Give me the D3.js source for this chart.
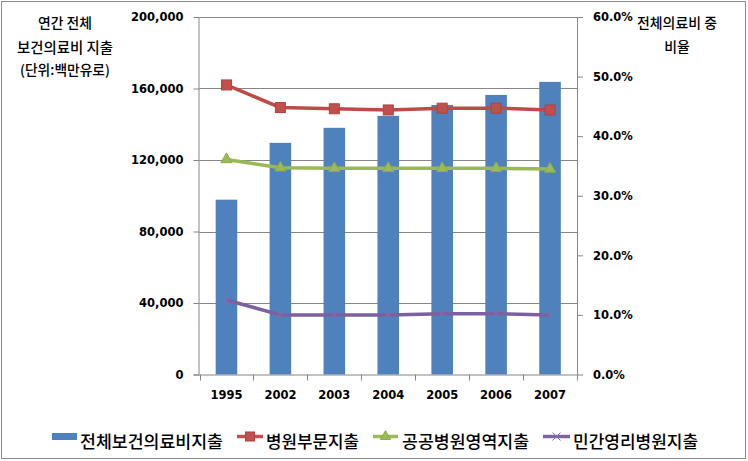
<!DOCTYPE html>
<html>
<head>
<meta charset="utf-8">
<script src="https://cdn.jsdelivr.net/npm/d3@7"></script>
<style>
  html, body { margin: 0; padding: 0; background: #fff; }
  svg { display: block; }
</style>
</head>
<body>
<svg id="chart" width="748" height="461"></svg>
<script>
// ---- data ----
const years = ['1995', '2002', '2003', '2004', '2005', '2006', '2007'];
const totalSpending = [97800, 129600, 138000, 144700, 150800, 156400, 163700];
const hospitalShare = [48.6, 44.8, 44.6, 44.4, 44.7, 44.7, 44.4];
const publicHospitalShare = [36.1, 34.7, 34.6, 34.6, 34.6, 34.6, 34.5];
const privateProfitShare = [12.5, 10.0, 10.0, 10.0, 10.2, 10.2, 10.0];
const leftTicks = [0, 40000, 80000, 120000, 160000, 200000];
const rightTicks = [0, 10, 20, 30, 40, 50, 60];
const seriesNames = ['전체보건의료비지출', '병원부문지출', '공공병원영역지출', '민간영리병원지출'];
const leftTitle = ['연간 전체', '보건의료비 지출', '(단위:백만유로)'];
const rightTitle = ['전체의료비 중', '비율'];

// ---- layout ----
const svg = d3.select('#chart');
const pLeft = 199.5, pRight = 577, pTop = 17, pBottom = 374.5;
const numFont = '"DejaVu Sans", sans-serif';
const krFont = '"Noto Sans CJK KR", sans-serif';

const x = d3.scaleBand().domain(years).range([pLeft, pRight]).paddingInner(0.6).paddingOuter(0.3);
const yL = d3.scaleLinear().domain([0, 200000]).range([pBottom, pTop]);
const yR = d3.scaleLinear().domain([0, 60]).range([pBottom, pTop]);

// scale a text's font size so its width matches a target width
function fitWidth(sel, target) {
  sel.each(function () {
    const base = parseFloat(this.getAttribute('font-size'));
    const w = this.getComputedTextLength();
    if (w > 0) this.setAttribute('font-size', (base * target / w).toFixed(2));
  });
}

// outer border
svg.append('rect').attr('x', 1.5).attr('y', 1.5).attr('width', 744).attr('height', 457)
  .attr('fill', '#fff').attr('stroke', '#8c8c8c').attr('stroke-width', 1);

// gridlines
svg.append('g').selectAll('line').data(leftTicks.filter(d => d > 0)).join('line')
  .attr('x1', pLeft).attr('x2', pRight)
  .attr('y1', d => Math.round(yL(d)) + 0.5).attr('y2', d => Math.round(yL(d)) + 0.5)
  .attr('stroke', '#868686').attr('stroke-width', 1);

// bars
svg.append('g').selectAll('rect').data(years).join('rect')
  .attr('x', d => x(d)).attr('width', x.bandwidth())
  .attr('y', (d, i) => yL(totalSpending[i]))
  .attr('height', (d, i) => pBottom - yL(totalSpending[i]))
  .attr('fill', '#4f81bd');

// left axis
const gL = svg.append('g').attr('transform', `translate(${pLeft},0)`)
  .call(d3.axisLeft(yL).tickValues(leftTicks).tickSize(6).tickPadding(10)
    .tickFormat(d3.format(',')));
gL.select('.domain').attr('stroke', '#868686').attr('d', `M-0.5,${pTop}V${pBottom}`);
gL.selectAll('.tick line').attr('stroke', '#868686');
gL.selectAll('.tick text').attr('font-family', numFont).attr('font-weight', 'bold')
  .attr('font-size', 11.5).attr('fill', '#000');

// right axis
const gR = svg.append('g').attr('transform', `translate(${pRight},0)`)
  .call(d3.axisRight(yR).tickValues(rightTicks).tickSize(6).tickPadding(10)
    .tickFormat(d => d3.format('.1f')(d) + '%'));
gR.select('.domain').attr('stroke', '#868686').attr('d', `M0.5,${pTop}V${pBottom}`);
gR.selectAll('.tick line').attr('stroke', '#868686');
gR.selectAll('.tick text').attr('font-family', numFont).attr('font-weight', 'bold')
  .attr('font-size', 11.5).attr('fill', '#000');

// x axis
const gX = svg.append('g').attr('transform', `translate(0,${pBottom})`);
gX.append('line').attr('x1', pLeft - 6).attr('x2', pRight).attr('y1', 0.5).attr('y2', 0.5)
  .attr('stroke', '#868686');
const bounds = years.map(d => x(d) - x.step() * x.paddingInner() / 2).concat([pRight]);
gX.selectAll('line.tk').data(bounds).join('line').attr('class', 'tk')
  .attr('x1', d => Math.round(d) + 0.5).attr('x2', d => Math.round(d) + 0.5)
  .attr('y1', 0).attr('y2', 6).attr('stroke', '#868686');
gX.selectAll('text').data(years).join('text')
  .attr('x', d => x(d) + x.bandwidth() / 2).attr('y', 24)
  .attr('text-anchor', 'middle').attr('font-family', numFont).attr('font-weight', 'bold')
  .attr('font-size', 11.5).text(d => d);

// lines
const cx = d => x(d) + x.bandwidth() / 2;
const series = [
  { vals: hospitalShare, color: '#c0504d', stroke: '#be4b48', marker: 'square' },
  { vals: publicHospitalShare, color: '#9bbb59', stroke: '#98b954', marker: 'triangle' },
  { vals: privateProfitShare, color: '#8064a2', stroke: '#7d60a0', marker: 'x' }
];
const line = d3.line().x(d => d[0]).y(d => d[1]);
function drawMarker(g, type, px, py, s) {
  if (type === 'square') {
    g.append('rect').attr('x', px - s / 2).attr('y', py - s / 2).attr('width', s).attr('height', s)
      .attr('fill', '#c0504d').attr('stroke', '#b3413e').attr('stroke-width', 1);
  } else if (type === 'triangle') {
    const sym = d3.symbol().type(d3.symbolTriangle).size(s * s * 0.55);
    g.append('path').attr('d', sym()).attr('transform', `translate(${px},${py})`)
      .attr('fill', '#9bbb59').attr('stroke', '#8aab48').attr('stroke-width', 1);
  } else {
    const h = s / 2;
    g.append('path').attr('d', `M${px - h},${py - h}L${px + h},${py + h}M${px - h},${py + h}L${px + h},${py - h}`)
      .attr('stroke', '#8a70aa').attr('stroke-width', 1).attr('fill', 'none');
  }
}
series.forEach(s => {
  const pts = years.map((d, i) => [cx(d), yR(s.vals[i])]);
  const g = svg.append('g');
  g.append('path').attr('d', line(pts)).attr('fill', 'none')
    .attr('stroke', s.stroke).attr('stroke-width', 3.5).attr('stroke-linejoin', 'round');
  pts.forEach(p => drawMarker(g, s.marker, p[0], p[1], s.marker === 'x' ? 6 : 10));
});

// axis titles
const leftWidths = [54, 96, 90];
svg.append('g').selectAll('text').data(leftTitle).join('text')
  .attr('x', 65).attr('y', (d, i) => [28, 53, 75][i])
  .attr('text-anchor', 'middle').attr('font-family', krFont).attr('font-size', 13.3)
  .attr('font-weight', 500).attr('fill', '#000')
  .text(d => d)
  .each(function (d, i) { fitWidth(d3.select(this), leftWidths[i]); });
const rt = svg.append('g').selectAll('text').data(rightTitle).join('text')
  .attr('x', 677).attr('y', (d, i) => [28, 52][i])
  .attr('text-anchor', 'middle').attr('font-family', krFont).attr('font-size', 13.3)
  .attr('font-weight', 500).attr('fill', '#000')
  .text(d => d);
fitWidth(d3.select(rt.nodes()[0]), 80);
d3.select(rt.nodes()[1]).attr('font-size', rt.nodes()[0].getAttribute('font-size'));

// legend
const lg = svg.append('g');
const legendItems = [
  { name: seriesNames[0], x0: 52, x1: 77, tx: 80, w: 143, type: 'bar' },
  { name: seriesNames[1], x0: 237, x1: 263, tx: 266, w: 93, type: 'square', color: '#c0504d' },
  { name: seriesNames[2], x0: 373, x1: 398, tx: 402, w: 127, type: 'triangle', color: '#9bbb59' },
  { name: seriesNames[3], x0: 543, x1: 570, tx: 573, w: 125, type: 'x', color: '#8064a2' }
];
const ly = 436.5;
legendItems.forEach(it => {
  if (it.type === 'bar') {
    lg.append('rect').attr('x', it.x0).attr('y', ly - 3.5).attr('width', it.x1 - it.x0).attr('height', 7)
      .attr('fill', '#4f81bd');
  } else {
    lg.append('line').attr('x1', it.x0).attr('x2', it.x1).attr('y1', ly).attr('y2', ly)
      .attr('stroke', it.color).attr('stroke-width', 3.5);
    drawMarker(lg, it.type, (it.x0 + it.x1) / 2, ly, it.type === 'x' ? 8 : 9);
  }
  const t = lg.append('text').attr('x', it.tx).attr('y', ly + 11).attr('font-family', krFont)
    .attr('font-size', 15.7).attr('font-weight', 500).attr('fill', '#000').text(it.name);
  fitWidth(t, it.w);
});
</script>
</body>
</html>
